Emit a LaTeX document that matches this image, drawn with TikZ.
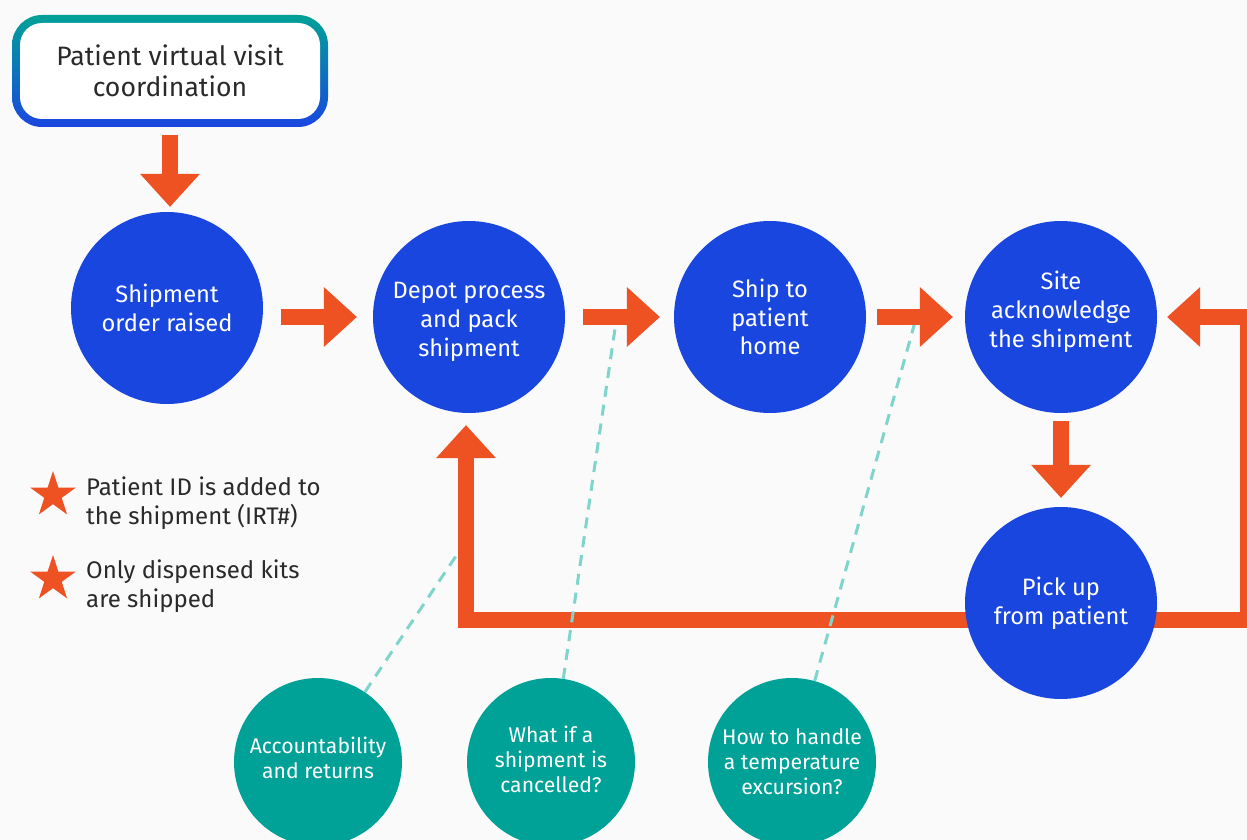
\documentclass[tikz,border=0pt]{standalone}
\usepackage{fontspec}
\setmainfont{Fira Sans}
\usetikzlibrary{arrows.meta,shapes.geometric,backgrounds,calc}
\definecolor{bgc}{HTML}{FAFAFA}
\definecolor{nblue}{HTML}{1A46E0}
\definecolor{nteal}{HTML}{00A197}
\definecolor{norange}{HTML}{EE5222}
\definecolor{dteal}{HTML}{7FD4CC}
\definecolor{txt}{HTML}{2A2A2A}
\newcommand{\uppad}[1]{\rule{0pt}{#1}}
\newcommand{\downpad}[1]{\rule[-#1]{0pt}{0pt}}
\begin{document}
\begin{tikzpicture}[x=1pt,y=-1pt,
  stepcirc/.style={circle, fill=nblue, minimum size=192pt, inner sep=0pt, text=white, align=center, font=\fontsize{23.7}{28.8}\selectfont},
  qcirc/.style={circle, fill=nteal, minimum size=168pt, inner sep=0pt, text=white, align=center, font=\fontsize{21.2}{25}\selectfont},
  flow/.style={draw=norange, line width=16pt, -{Triangle[width=60pt,length=33pt,line width=0pt]}},
  hint/.style={draw=dteal, line width=3pt, dash pattern=on 11pt off 8pt},
  legstar/.style={star, star points=5, star point ratio=2.618, fill=norange, minimum size=48pt, inner sep=0pt},
  legtext/.style={anchor=west, align=left, inner sep=0pt, text=txt, font=\fontsize{24}{28.5}\selectfont}]
\begin{scope}[on background layer]
  \fill[bgc] (0,0) rectangle (1247,840);
\end{scope}
\useasboundingbox (0,0) rectangle (1247,840);

% top box
\shade[top color=nteal, bottom color=nblue, rounded corners=30pt] (12,15) rectangle (328,127);
\node[fill=white, rounded corners=22pt, minimum width=300pt, minimum height=96pt, inner sep=0pt,
      text=txt, align=center, font=\fontsize{26.6}{31.5}\selectfont] (visit) at (170,71) {Patient virtual visit\\coordination};

% process circles
\node[stepcirc] (c1) at (167,308) {Shipment\\order raised};
\node[stepcirc] (c2) at (469,317) {\uppad{26pt}Depot process\\and pack\\shipment};
\node[stepcirc] (c3) at (770,317) {Ship to\\patient\\home};
\node[stepcirc] (c4) at (1061,317) {Site\\acknowledge\\the shipment\downpad{16pt}};
\node[stepcirc] (c5) at (1061,603) {Pick up\\from patient};

% question circles
\node[qcirc] (acc) at (318,762) {Accountability\\and returns\downpad{9pt}};
\node[qcirc] (canc) at (551,762) {What if a\\shipment is\\cancelled?\downpad{6pt}};
\node[qcirc] (temp) at (792,762) {How to handle\\a temperature\\excursion?};

% legend
\node[legstar] (s1) at (53,495) {};
\node[legtext] (l1) at (86,503) {Patient ID is added to\\the shipment (IRT\#)};
\node[legstar] (s2) at (53,579) {};
\node[legtext] (l2) at (86,586) {Only dispensed kits\\are shipped};

% return loop
\coordinate (br) at (1248,620);
\coordinate (bl) at (466,620);
\begin{scope}[on background layer]
  \draw[flow, shorten >=10pt] (br) |- (c4.east);
  \draw[flow, shorten >=12pt] (br) -- (bl) -- (bl |- c2.south);
\end{scope}

% dashed hints
\coordinate (h1) at (458,553);
\coordinate (h2) at (616,322);
\coordinate (h3) at (915,322);
\draw[hint] (acc) -- (h1);
\draw[hint] (canc) -- (h2);
\draw[hint] (temp) -- (h3);

% flow arrows
\draw[flow, shorten <=16pt, shorten >=5pt] (visit.south) -- (visit.south |- c1.north);
\draw[flow, shorten <=18pt, shorten >=16pt] (c1.east |- c2.west) -- (c2.west);
\draw[flow, shorten <=18pt, shorten >=14pt] (c2.east) -- (c3.west);
\draw[flow, shorten <=11pt, shorten >=12pt] (c3.east) -- (c4.west);
\draw[flow, shorten <=8pt, shorten >=9pt] (c4.south) -- (c5.north);
\end{tikzpicture}
\end{document}
